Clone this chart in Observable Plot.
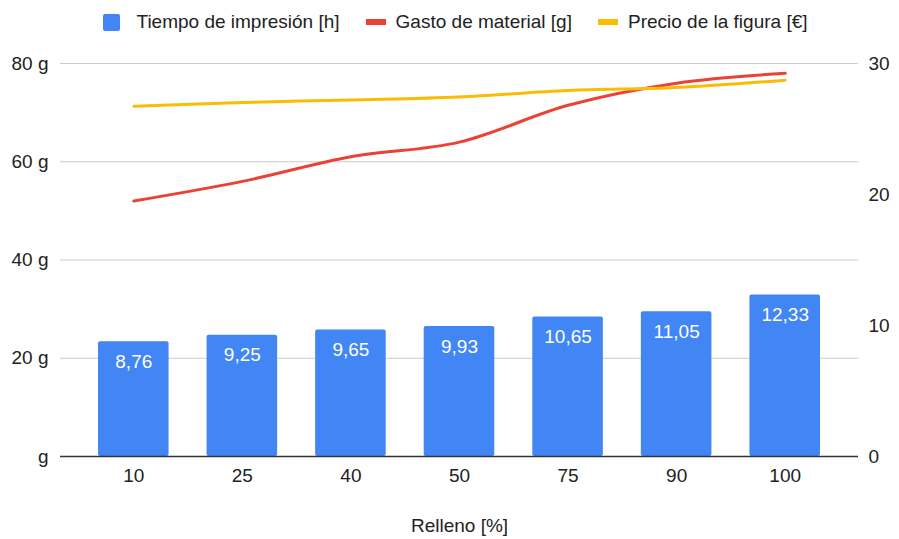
<!DOCTYPE html>
<html>
<head>
<meta charset="utf-8">
<script src="https://cdn.jsdelivr.net/npm/d3@7"></script>
<script src="https://cdn.jsdelivr.net/npm/@observablehq/plot@0.6"></script>
<style>
  body { margin: 0; background: #fff; font-family: "Liberation Sans", Arial, sans-serif; color: #222; }
  #legend { height: 44px; display: flex; justify-content: center; align-items: center; padding-left: 12px; box-sizing: border-box; font-size: 19px; }
  .item { display: flex; align-items: center; margin: 0 13px; }
  .sw-bar { width: 17px; height: 17px; border-radius: 2px; margin-right: 16px; }
  .sw-line { width: 20px; height: 6px; margin-right: 10px; }
</style>
</head>
<body>
<div id="legend"></div>
<div id="chart"></div>
<script>
const relleno = ["10", "25", "40", "50", "75", "90", "100"];
const tiempo = [8.76, 9.25, 9.65, 9.93, 10.65, 11.05, 12.33];
const gasto = [52, 56, 61, 64, 71.5, 76, 78];
const precio = [26.74, 27.02, 27.22, 27.45, 27.94, 28.17, 28.73];
const leftTicks = [0, 20, 40, 60, 80];
const rightTicks = [0, 10, 20, 30];
const seriesNames = ["Tiempo de impresión [h]", "Gasto de material [g]", "Precio de la figura [€]"];
const colors = ["#4285F4", "#EA4335", "#FBBC04"];

const k = 80 / 30; // right axis (0–30) mapped onto left axis (0–80 g)

const rows = relleno.map((r, i) => ({
  r, t: tiempo[i], g: gasto[i], p: precio[i]
}));

// Legend
const legend = document.getElementById("legend");
seriesNames.forEach((name, i) => {
  const it = document.createElement("div");
  it.className = "item";
  const sw = document.createElement("div");
  sw.className = i === 0 ? "sw-bar" : "sw-line";
  sw.style.background = colors[i];
  it.appendChild(sw);
  const tx = document.createElement("span");
  tx.textContent = name;
  it.appendChild(tx);
  legend.appendChild(it);
});

const fmt = v => v.toFixed(2).replace(".", ",");

const chart = Plot.plot({
  width: 899,
  height: 495,
  marginLeft: 60,
  marginRight: 41,
  marginTop: 19,
  marginBottom: 83,
  style: { fontFamily: "'Liberation Sans', Arial, sans-serif", fontSize: "19px", color: "#222", background: "#fff" },
  x: { type: "band", domain: relleno, paddingInner: 0.35, paddingOuter: 0.35, round: false },
  y: { domain: [0, 80] },
  marks: [
    Plot.gridY(leftTicks, { stroke: "#cccccc", strokeOpacity: 1, strokeWidth: 1 }),
    Plot.barY(rows, { x: "r", y: d => d.t * k, fill: colors[0], rx: 2 }),
    Plot.text(rows, { x: "r", y: d => d.t * k, text: d => fmt(d.t), fill: "#fff", dy: 20, fontSize: 19 }),
    Plot.ruleY([0], { stroke: "#333", strokeWidth: 1.5 }),
    Plot.line(rows, { x: "r", y: "g", stroke: colors[1], strokeWidth: 3, curve: "catmull-rom" }),
    Plot.line(rows, { x: "r", y: d => d.p * k, stroke: colors[2], strokeWidth: 3, curve: "catmull-rom" }),
    Plot.axisY(leftTicks, { anchor: "left", tickSize: 0, tickPadding: 12, tickFormat: d => d === 0 ? "g" : d + " g", label: null, fontSize: 19 }),
    Plot.axisY(rightTicks.map(v => v * k), { anchor: "right", tickSize: 0, tickPadding: 10, tickFormat: d => String(Math.round(d / k)), label: null, fontSize: 19 }),
    Plot.axisX({ tickSize: 0, tickPadding: 12, label: "Relleno [%]", labelAnchor: "center", labelOffset: 75, fontSize: 19 })
  ]
});
document.getElementById("chart").appendChild(chart);
</script>
</body>
</html>
